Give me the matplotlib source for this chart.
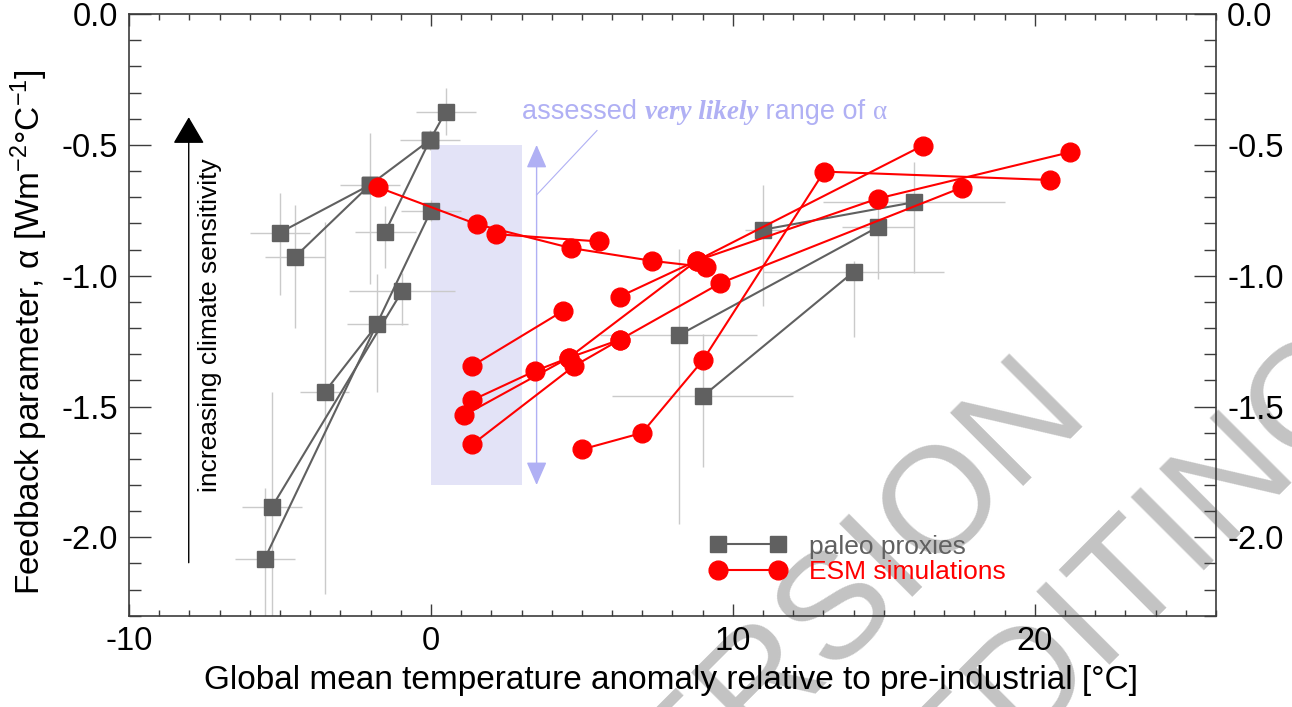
import numpy as np
import matplotlib
matplotlib.use('Agg')
import matplotlib.pyplot as plt
from matplotlib.ticker import MultipleLocator

plt.rcParams['font.family'] = ['Liberation Sans', 'DejaVu Sans']
plt.rcParams['mathtext.fontset'] = 'custom'
plt.rcParams['mathtext.rm'] = 'Liberation Sans'
plt.rcParams['mathtext.it'] = 'Liberation Sans:italic'
plt.rcParams['axes.unicode_minus'] = False

paleo_grey = '#606060'
esm_red = '#ff0000'
err_grey = '#cacaca'
band_fill = '#e3e3f7'
band_blue = '#b0b0f4'
axis_grey = '#3c3c3c'

# paleo proxy estimates: warming vs pre-industrial and feedback parameter
paleo_dt = np.array([0.49, -0.03, -2.02, -5.0, -4.51, -1.51, 0.0, -0.96, -1.77,
                     -3.52, -5.26, -5.5, 8.2, 14.8, 16.0, 9.0, 11.0, 14.0])
paleo_alpha = np.array([-0.373, -0.481, -0.653, -0.835, -0.929, -0.832, -0.752, -1.060, -1.185,
                        -1.445, -1.883, -2.081, -1.228, -0.814, -0.719, -1.461, -0.824, -0.985])
paleo_dt_err = np.array([1.0, 1.0, 1.0, 1.0, 1.0, 1.0, 1.0, 1.75, 1.0,
                         0.8, 1.0, 1.0, 2.6, 1.2, 3.0, 3.0, 0.6, 3.0])
paleo_alpha_err_up = np.array([0.09, 0.04, 0.20, 0.15, 0.20, 0.10, 0.04, 0.07, 0.19,
                               0.65, 0.44, 0.27, 0.33, 0.10, 0.155, 0.24, 0.17, 0.04])
paleo_alpha_err_dn = np.array([0.09, 0.04, 0.38, 0.24, 0.27, 0.14, 0.04, 0.13, 0.26,
                               0.77, 0.50, 0.40, 0.72, 0.20, 0.27, 0.27, 0.29, 0.25])
# estimates joined by a line (index pairs into the arrays above)
paleo_pairs = [(3, 2), (4, 2), (2, 1), (5, 1), (1, 0), (11, 6), (10, 7), (9, 8),
               (12, 13), (16, 14), (15, 17)]

# ESM simulations, one list per model
esm_dt = [
    [-1.75, 1.52, 4.63, 7.32, 9.12],
    [2.15, 5.57],
    [1.35, 4.37],
    [1.36, 3.45, 4.56, 8.81, 16.28],
    [1.09, 4.56, 6.27],
    [1.37, 4.73, 6.27, 9.59, 17.58],
    [5.0, 6.99, 9.0, 13.02, 20.51],
    [6.25, 8.81, 14.80, 21.16],
]
esm_alpha = [
    [-0.662, -0.803, -0.894, -0.943, -0.967],
    [-0.841, -0.869],
    [-1.346, -1.135],
    [-1.476, -1.364, -1.314, -0.942, -0.503],
    [-1.534, -1.314, -1.244],
    [-1.645, -1.346, -1.244, -1.028, -0.663],
    [-1.664, -1.601, -1.324, -0.602, -0.634],
    [-1.080, -0.942, -0.705, -0.528],
]

# assessed very likely range of alpha
likely_lo, likely_hi = -1.8, -0.5
band_dt = (0.0, 3.0)
range_arrow_dt = 3.5

fig = plt.figure(figsize=(12.92, 7.07), dpi=100)
ax = fig.add_axes([0.0998, 0.129, 0.8414, 0.851])
ax.patch.set_alpha(0)

# draft stamp, kept underneath the plot
stamp = dict(color='#c3c3c3', fontsize=108, rotation=45, rotation_mode='anchor',
             ha='right', va='baseline', zorder=-1)
fig.text(0.845, 0.41, 'VERSION', **stamp)
fig.text(1.068, 0.46, 'EDITING', **stamp)

ax.fill_between(band_dt, likely_lo, likely_hi, color=band_fill, lw=0, zorder=0)
ax.annotate('', xy=(range_arrow_dt, likely_hi), xytext=(range_arrow_dt, likely_lo),
            arrowprops=dict(arrowstyle='<|-|>,head_length=0.8,head_width=0.35',
                            color=band_blue, lw=1.0, mutation_scale=18,
                            shrinkA=0, shrinkB=0), zorder=1)
ax.plot([range_arrow_dt, 5.5], [-0.691, -0.445], color=band_blue, lw=0.8, zorder=1)

t0 = ax.text(3.02, -0.40, 'assessed ', color=band_blue, fontsize=19.5, va='baseline', zorder=1)
t1 = ax.annotate('very likely', xy=(1, 0), xycoords=(t0, t0), va='bottom',
                 color=band_blue, fontsize=19.5, family='Liberation Serif',
                 weight='bold', style='italic')
t2 = ax.annotate(' range of ', xy=(1, 0), xycoords=(t1, t0), va='bottom',
                 color=band_blue, fontsize=19.5)
ax.annotate('α', xy=(1, 0), xycoords=(t2, t0), va='bottom',
            color=band_blue, fontsize=19.5, family='Liberation Serif')

# error crosses for the proxies
ax.errorbar(paleo_dt, paleo_alpha, xerr=paleo_dt_err,
            yerr=[paleo_alpha_err_dn, paleo_alpha_err_up],
            fmt='none', ecolor=err_grey, elinewidth=1.0, capsize=0, zorder=2)

for i, j in paleo_pairs:
    ax.plot([paleo_dt[i], paleo_dt[j]], [paleo_alpha[i], paleo_alpha[j]],
            color=paleo_grey, lw=1.5, marker='s', ms=12, mec=paleo_grey,
            mfc=paleo_grey, zorder=3)

for dts, als in zip(esm_dt, esm_alpha):
    ax.plot(dts, als, color=esm_red, lw=1.5, marker='o', ms=13.5, mec=esm_red,
            mfc=esm_red, zorder=4)

# direction arrow on the left
ax.annotate('', xy=(-8.02, -0.394), xytext=(-8.02, -2.097),
            arrowprops=dict(arrowstyle='-|>,head_length=0.85,head_width=0.5',
                            color='black', lw=1.0, mutation_scale=20,
                            shrinkA=0, shrinkB=0))
ax.text(-7.3, -1.19, 'increasing climate sensitivity', rotation=90,
        ha='center', va='center', fontsize=19)

# legend
h_paleo, = ax.plot([], [], color=paleo_grey, lw=1.5, marker='s', ms=12,
                   label='paleo proxies')
h_esm, = ax.plot([], [], color=esm_red, lw=1.5, marker='o', ms=13.5,
                 label='ESM simulations')
ax.legend(handles=[h_paleo, h_esm], loc='upper left', bbox_to_anchor=(0.535, 0.135),
          frameon=False, fontsize=19, numpoints=2, handlelength=2.87,
          handletextpad=0.85, labelspacing=0.05, borderpad=0, borderaxespad=0,
          labelcolor='linecolor')

ax.set_xlim(-10, 26)
ax.set_ylim(-2.3, 0.0)
ax.xaxis.set_major_locator(MultipleLocator(10))
ax.xaxis.set_minor_locator(MultipleLocator(1))
ax.yaxis.set_major_locator(MultipleLocator(0.5))
ax.yaxis.set_minor_locator(MultipleLocator(0.1))
ax.yaxis.set_major_formatter(lambda v, p: '%.1f' % v)

ax.tick_params(which='both', direction='in', top=True, right=True, labelright=True,
               colors=axis_grey, labelcolor='black', labelsize=23.5, width=1.0)
ax.tick_params(axis='x', which='major', length=8.5, pad=7)
ax.tick_params(axis='x', which='minor', length=4.3)
ax.tick_params(axis='y', which='major', length=16, pad=8)
ax.tick_params(axis='y', which='minor', length=8.5)
for s in ax.spines.values():
    s.set_color(axis_grey)
    s.set_linewidth(1.2)

ax.set_xlabel('Global mean temperature anomaly relative to pre-industrial [°C]', fontsize=24)
ax.set_ylabel('Feedback parameter, α [Wm$^{-2}$°C$^{-1}$]', fontsize=24)
ax.xaxis.set_label_coords(0.499, -0.081)
ax.yaxis.set_label_coords(-0.0727, 0.472)

fig.savefig('out.png', dpi=100)
